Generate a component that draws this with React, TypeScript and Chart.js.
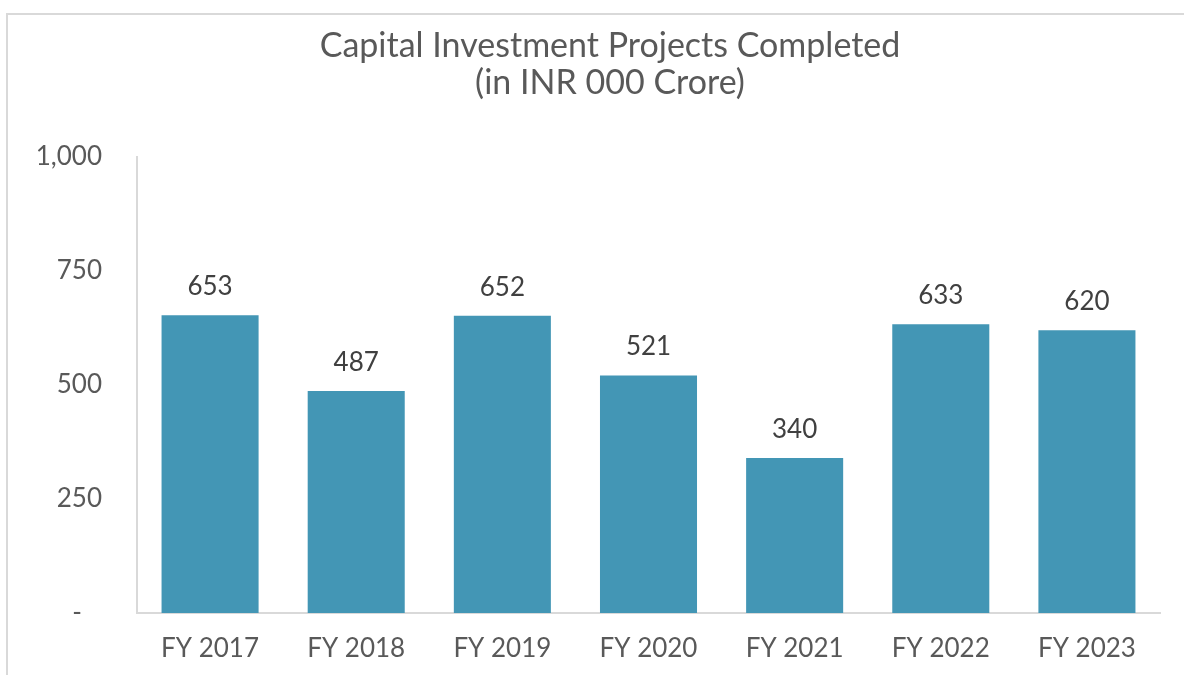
import React, { useEffect, useRef } from "react";
import { Chart, registerables } from "chart.js";

Chart.register(...registerables);

const categories = ["FY 2017", "FY 2018", "FY 2019", "FY 2020", "FY 2021", "FY 2022", "FY 2023"];
const values = [653, 487, 652, 521, 340, 633, 620];
const yTicks = [0, 250, 500, 750, 1000];
const titleLines = ["Capital Investment Projects Completed", "(in INR 000 Crore)"];

const FONT = "Lato, 'Open Sans', sans-serif";

const labelPlugin = {
  id: "barLabels",
  afterDatasetsDraw(chart: any) {
    const ctx = chart.ctx;
    const meta = chart.getDatasetMeta(0);
    ctx.save();
    ctx.font = `26px ${FONT}`;
    ctx.fillStyle = "#404040";
    ctx.textAlign = "center";
    ctx.textBaseline = "alphabetic";
    meta.data.forEach((bar: any, i: number) => {
      ctx.fillText(String(values[i]), bar.x, bar.y - 20);
    });
    ctx.restore();
  },
};

const titlePlugin = {
  id: "customTitle",
  afterDraw(chart: any) {
    const ctx = chart.ctx;
    ctx.save();
    ctx.font = `34px ${FONT}`;
    ctx.fillStyle = "#595959";
    ctx.textAlign = "center";
    ctx.textBaseline = "alphabetic";
    ctx.fillText(titleLines[0], 610, 57);
    ctx.fillText(titleLines[1], 610, 94);
    ctx.restore();
  },
};

export default function App() {
  const ref = useRef<HTMLCanvasElement>(null);

  useEffect(() => {
    if (!ref.current) return;
    const chart = new Chart(ref.current, {
      type: "bar",
      data: {
        labels: categories,
        datasets: [
          {
            data: values,
            backgroundColor: "#4396B5",
            categoryPercentage: 0.664,
            barPercentage: 1,
          },
        ],
      },
      options: {
        animation: false,
        responsive: false,
        maintainAspectRatio: false,
        layout: { padding: { top: 157, right: 24, bottom: 0, left: 0 } },
        plugins: {
          legend: { display: false },
          title: { display: false },
          tooltip: { enabled: false },
        },
        scales: {
          x: {
            grid: { display: false, drawTicks: false },
            border: { color: "#d9d9d9", width: 2 },
            ticks: {
              color: "#595959",
              font: { family: FONT, size: 26 },
              padding: 20,
              maxRotation: 0,
            },
            afterFit(scale: any) {
              scale.height = 62;
            },
          },
          y: {
            min: 0,
            max: 1000,
            afterBuildTicks(scale: any) {
              scale.ticks = yTicks.map((v) => ({ value: v }));
            },
            grid: { display: false, drawTicks: false },
            border: { color: "#d9d9d9", width: 2 },
            ticks: {
              color: "#595959",
              font: { family: FONT, size: 26 },
              padding: 35,
              callback: (v: any) => (v === 0 ? "-   " : Number(v).toLocaleString("en-US")),
            },
            afterFit(scale: any) {
              scale.width = 137;
            },
          },
        },
      },
      plugins: [labelPlugin, titlePlugin],
    });
    return () => chart.destroy();
  }, []);

  return (
    <div style={{ position: "fixed", left: 0, top: 0, width: 1184, height: 675, background: "#fff" }}>
      <div
        style={{
          position: "absolute",
          left: 6,
          top: 13,
          width: 1200,
          height: 700,
          borderLeft: "2px solid #d9d9d9",
          borderTop: "2px solid #d9d9d9",
        }}
      />
      <canvas ref={ref} width={1184} height={675} style={{ position: "absolute", left: 0, top: 0 }} />
    </div>
  );
}
